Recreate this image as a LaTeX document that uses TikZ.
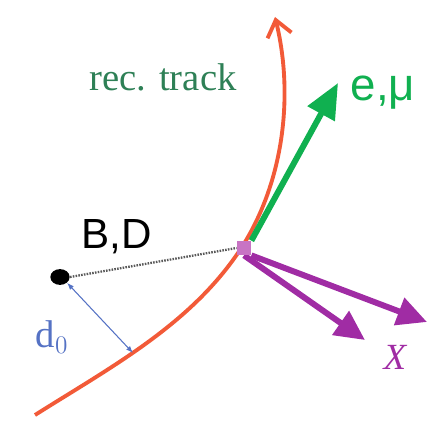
\documentclass[tikz,border=0pt]{standalone}
\usepackage{fontspec}
\setmainfont{Liberation Serif}
\setsansfont{Liberation Sans}
\usepackage{tikz}
\usetikzlibrary{positioning,calc,arrows.meta,shapes.geometric}
\definecolor{trackred}{HTML}{F25A38}
\definecolor{lepgreen}{HTML}{10B050}
\definecolor{recgreen}{HTML}{2E8056}
\definecolor{xpurple}{HTML}{A02CA4}
\definecolor{vtxpink}{HTML}{C874C4}
\definecolor{dblue}{HTML}{5572C4}
\tikzset{
  track/.style={draw=trackred, line width=2.2pt, -{Straight Barb[length=9pt, width=14pt, line width=2.2pt]}},
  lepton/.style={draw=lepgreen, line width=3.4pt, -{Triangle[length=20pt, width=17pt]}},
  hadron/.style={draw=xpurple, line width=3.4pt, -{Triangle[length=17pt, width=16pt]}},
  flight/.style={draw=gray!70!black, line width=1.3pt, dash pattern=on 0.9pt off 0.7pt},
  impact/.style={draw=dblue, line width=0.6pt, {Latex[length=4pt, width=3pt]}-{Latex[length=4pt, width=3pt]}},
  vertex/.style={rectangle, fill=vtxpink, minimum size=8pt, inner sep=0pt},
  primary/.style={ellipse, fill=black, minimum width=11pt, minimum height=9pt, inner sep=0pt},
  lbl/.style={inner sep=0pt, font=\fontsize{22}{24}\selectfont},
}

\begin{document}
\begin{tikzpicture}[x=0.02cm, y=-0.02cm]
  \useasboundingbox (0,0) rectangle (438,432);

  % --- points --------------------------------------------------------------
  \coordinate (trk-start) at (35,415);
  \coordinate (foot) at (133,353);
  \coordinate (trk-mid) at (240,250);
  \coordinate (trk-end) at (275,17);
  \coordinate (lep-tip) at (338,83);
  \coordinate (x-1) at (427,322);
  \coordinate (x-2) at (365,340);

  % --- reconstructed track ---------------------------------------------------
  \draw[track] (trk-start) .. controls (111,367) and (190,325) .. (trk-mid)
    .. controls (284,183) and (294,95) .. (trk-end);

  % --- decay products -------------------------------------------------------
  \node[vertex] (vtx) at (244,248) {};
  \node[primary] (pv) at (60,277) {};
  \draw[lepton] (vtx.north east) -- (lep-tip);
  \draw[hadron] (vtx.south east) -- (x-1);
  \draw[hadron] (vtx.south) -- (x-2);
  \node[vertex] at (vtx) {};

  % --- flight and impact parameter -----------------------------------------
  \draw[flight] (pv.east) -- (vtx.west);
  \draw[impact] (foot) -- (pv.south east);

  % --- labels ---------------------------------------------------------------
  \node[lbl, text=recgreen] (rec) at (163,77) {rec. track};
  \node[lbl, text=lepgreen, font=\sffamily\fontsize{26}{28}\selectfont] (lep) at (383,93) {e,μ};
  \node[lbl, font=\sffamily\fontsize{24}{26}\selectfont] (bd) at (117,237) {B,D};
  \node[lbl, text=dblue] (d0) at (52,337) {d$_0$};
  \node[lbl, text=xpurple, font=\itshape\fontsize{21}{23}\selectfont] (xlbl) at (395,357) {X};

\end{tikzpicture}
\end{document}
